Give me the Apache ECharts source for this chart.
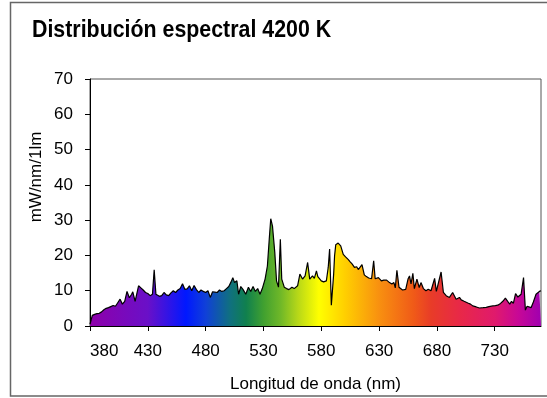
<!DOCTYPE html>
<html>
<head>
<meta charset="utf-8">
<script src="https://cdn.jsdelivr.net/npm/echarts@6/dist/echarts.min.js"></script>
<style>
  html, body { margin: 0; padding: 0; background: #fff; }
  #chart { width: 547px; height: 398px; }
</style>
</head>
<body>
<div id="chart"></div>
<script>
// Spectral power distribution of a 4200 K metal-halide source
const wavelengths = [
  380, 382, 384, 386, 388, 390, 392, 394, 396, 398, 400, 402, 404, 406, 408, 410,
  412, 414, 416, 417, 419, 420, 422, 424, 426, 428, 430, 432, 434, 435.5, 437, 440,
  442, 444, 446, 448, 450, 452, 454, 456, 458, 460, 462, 464, 466, 468, 470, 472,
  474, 476, 478, 480, 482, 484, 486, 488, 490, 492, 494, 496, 498, 500, 502, 503.5,
  505, 507, 508.5, 510.4, 512.4, 514.7, 517, 519, 521, 523, 525, 527, 529, 531.4,
  533.4, 535, 536.3, 537.8, 539.8, 541.3, 543, 544.6, 545.8, 548, 550, 552, 554.6,
  556.6, 559.5, 561.5, 563.8, 566, 568.2, 570, 572.4, 574, 575.8, 577, 580, 582,
  584.4, 586, 587.2, 588.7, 590.7, 591.5, 592.5, 594.6, 596.8, 599, 601, 603.2,
  605, 606.6, 607.8, 608.7, 610.6, 612, 613.5, 615.2, 617.2, 619, 621, 623.5,
  625.3, 626.6, 629.4, 632, 634, 636.5, 639, 641, 642.8, 644, 645.4, 647.2, 650.3,
  653, 655, 656.3, 657.6, 659.2, 660.5, 662.7, 664.7, 666.2, 668.3, 670.5, 672.5,
  674.9, 678, 679.5, 681, 683.6, 685.6, 688, 690.8, 693.6, 695, 696.6, 699.5, 701,
  703.5, 706.7, 709, 711, 714, 716.8, 720, 722.6, 725, 728.3, 730.5, 732.6, 735,
  737, 739.2, 741.2, 743, 744.5, 746.1, 748, 750, 752.8, 754.9, 756.5, 758, 759.4,
  761.4, 763.4, 765.7, 768.6, 770
];
const irradiance = [
  0.5, 3.0, 3.3, 3.5, 3.6, 4.0, 4.6, 5.0, 5.2, 5.5, 5.8, 5.6, 6.6, 7.6, 6.2, 7.0,
  9.8, 8.0, 9.0, 9.7, 7.0, 6.9, 11.4, 10.8, 10.2, 9.5, 9.2, 8.6, 9.0, 15.9, 9.0, 8.4,
  8.6, 9.5, 8.8, 8.6, 9.4, 10.0, 9.5, 10.2, 10.6, 12.0, 10.4, 10.5, 11.4, 10.0, 11.5, 10.3,
  9.5, 10.2, 9.8, 9.5, 10.0, 8.1, 9.7, 9.6, 9.5, 10.2, 9.8, 10.0, 10.6, 11.2, 12.5, 13.7,
  12.3, 12.8, 9.0, 11.2, 10.3, 9.0, 11.0, 9.8, 11.2, 9.8, 10.6, 9.0, 10.6, 13.3,
  17.0, 24.6, 30.4, 28.3, 20.8, 12.8, 11.0, 24.6, 13.3, 11.0, 10.6, 10.3, 11.0,
  10.6, 11.4, 14.7, 13.3, 14.2, 18.0, 13.3, 14.2, 13.5, 15.6, 14.0, 12.8, 12.5,
  12.8, 16.6, 21.8, 5.9, 14.7, 19.9, 23.0, 23.5, 22.7, 20.3, 19.6, 18.9,
  18.2, 17.6, 18.0, 16.6, 16.8, 16.0, 15.6, 17.4, 14.5, 14.0, 13.6, 13.4,
  18.5, 13.4, 13.7, 12.8, 13.0, 13.0, 12.3, 11.9, 12.3, 10.8, 15.8, 11.0, 10.2,
  10.4, 13.3, 14.2, 11.9, 14.9, 10.6, 13.3, 10.9, 12.3, 10.6, 10.0, 10.4,
  10.0, 13.5, 9.8, 10.0, 15.3, 9.5, 8.6, 8.1, 9.5, 9.8, 7.6, 8.1, 7.4,
  7.0, 6.5, 6.2, 5.7, 5.4, 5.1, 5.2, 5.3, 5.5, 5.7, 5.8, 5.9, 6.4,
  7.0, 7.9, 7.0, 6.2, 7.0, 6.4, 9.2, 8.2, 9.0, 13.7, 4.5, 5.6, 5.9,
  5.2, 6.8, 9.0, 9.8, 10.0
];

// Visible-spectrum colours laid across the wavelength range
const spectrumNm = [380, 430, 463, 480, 501, 515, 530, 545, 560, 578, 600, 630, 660, 675, 700, 730, 750, 770];
const spectrumColors = ['#8e00aa', '#6a10c8', '#0018ff', '#1040d8', '#107080', '#10804e', '#40a030', '#70b828',
  '#b8d818', '#ffff00', '#ffd000', '#f89010', '#f05a18', '#e83c28', '#e82848', '#e01a6c', '#c80896', '#a000b0'];

const nmMin = 380, nmMax = 770;
const FONT = "'Liberation Sans', Arial, sans-serif";

const points = wavelengths.map((w, i) => [w, irradiance[i]]);
const stops = spectrumNm.map((w, i) => ({ offset: (w - nmMin) / (nmMax - nmMin), color: spectrumColors[i] }));

const chart = echarts.init(document.getElementById('chart'), null, { renderer: 'canvas' });
chart.setOption({
  animation: false,
  backgroundColor: '#fff',
  graphic: [
    {
      type: 'rect', z: -1, silent: true,
      shape: { x: 10.5, y: 2.5, width: 600, height: 393.5 },
      style: { fill: 'none', stroke: '#666', lineWidth: 1.5 }
    },
    {
      // chart title, slightly condensed
      type: 'text', silent: true,
      x: 32, y: 30.5, scaleX: 0.89,
      style: {
        text: 'Distribución espectral 4200 K', font: 'bold 24px ' + FONT, fill: '#000',
        textAlign: 'left', textVerticalAlign: 'middle'
      }
    },
    {
      type: 'text', silent: true,
      x: 36, y: 177, rotation: Math.PI / 2,
      style: {
        text: 'mW/nm/1lm', font: '17px ' + FONT, fill: '#000',
        textAlign: 'center', textVerticalAlign: 'middle'
      }
    }
  ],
  grid: {
    left: 90, right: 6, top: 79, bottom: 71,
    show: true, borderColor: '#555', borderWidth: 1, backgroundColor: 'transparent'
  },
  xAxis: {
    type: 'value', min: nmMin, max: nmMax, interval: 50,
    name: 'Longitud de onda (nm)', nameLocation: 'middle', nameGap: 50,
    nameTextStyle: { fontFamily: FONT, fontSize: 17, color: '#000' },
    axisLine: { show: true, lineStyle: { color: '#000', width: 1 } },
    axisTick: { show: true, inside: false, length: 5, lineStyle: { color: '#000' } },
    axisLabel: {
      fontFamily: FONT, fontSize: 17, color: '#000', margin: 17,
      alignMinLabel: 'left', showMaxLabel: false,
      formatter: v => (v % 10 === 0 && v < nmMax ? String(v) : '')
    },
    splitLine: { show: false }
  },
  yAxis: {
    type: 'value', min: 0, max: 70, interval: 10,
    axisLine: { show: true, lineStyle: { color: '#000', width: 1 } },
    axisTick: { show: true, inside: false, length: 5, lineStyle: { color: '#000' } },
    axisLabel: { fontFamily: FONT, fontSize: 17, color: '#000', margin: 17 },
    splitLine: { show: false }
  },
  series: [{
    type: 'line',
    data: points,
    showSymbol: false,
    smooth: false,
    lineStyle: { color: '#000', width: 1.2 },
    areaStyle: {
      origin: 'start',
      opacity: 1,
      color: new echarts.graphic.LinearGradient(0, 0, 1, 0, stops)
    }
  }]
});
</script>
</body>
</html>
